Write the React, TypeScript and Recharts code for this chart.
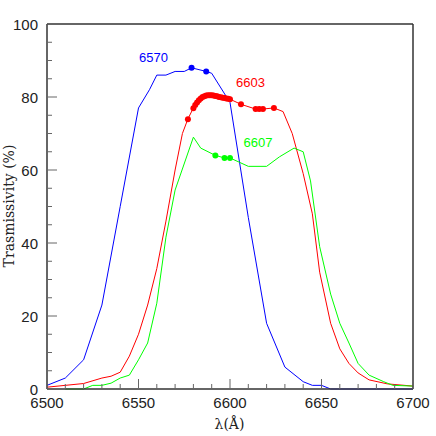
import { LineChart, Line, XAxis, YAxis } from 'recharts'

// filter 6570
const blueWave = [6500, 6510, 6520, 6530, 6540, 6550, 6556, 6560, 6565, 6570, 6575, 6579, 6587, 6590, 6600, 6610, 6620, 6630, 6640, 6645, 6650, 6655, 6700]
const blueTrans = [1, 3, 8, 23, 50, 77, 82, 86, 86, 87, 87, 88, 87, 86.5, 78.5, 47, 18, 6, 2, 1, 1, 0, 0]
const blueDotWave = [6579, 6587]
const blueDotTrans = [88, 87]

// filter 6603
const redWave = [6500, 6510, 6520, 6530, 6535, 6540, 6545, 6550, 6555, 6560, 6565, 6570, 6574, 6577, 6580, 6585, 6590, 6595, 6600, 6606, 6614, 6618, 6624, 6629, 6634, 6640, 6645, 6649, 6655, 6660, 6665, 6670, 6676, 6686, 6700]
const redTrans = [0.5, 1, 1.5, 3, 3.5, 4.6, 9, 15, 23, 33, 46, 60, 70, 74, 77, 80, 80.5, 79.9, 79.4, 78, 76.7, 76.7, 77, 76, 70, 59, 48, 32, 18, 11, 7, 4.4, 2.5, 1.4, 0.8]
const redDotWave = [6577, 6580, 6581, 6582, 6583, 6584, 6585, 6586, 6587, 6588, 6589, 6590, 6591, 6592, 6593, 6594, 6595, 6596, 6597, 6598, 6599, 6600, 6606, 6614, 6616, 6618, 6624]
const redDotTrans = [73.9, 76.9, 77.8, 78.5, 79.1, 79.6, 80, 80.2, 80.4, 80.5, 80.5, 80.5, 80.4, 80.3, 80.2, 80, 79.9, 79.8, 79.7, 79.6, 79.5, 79.4, 78, 76.7, 76.7, 76.7, 77]

// filter 6607
const greenWave = [6510, 6520, 6525, 6530, 6535, 6540, 6545, 6550, 6555, 6560, 6565, 6570, 6580, 6584, 6592, 6597, 6600, 6610, 6620, 6627, 6635, 6640, 6644, 6649, 6655, 6660, 6665, 6670, 6676, 6684, 6689, 6700]
const greenTrans = [0, 0, 1, 1, 1.6, 3, 3.8, 8, 12.6, 23.5, 41.6, 54.5, 69, 66, 64, 63.3, 63.3, 61, 61, 63.6, 66, 65, 57, 39, 26, 18, 12.6, 7, 3.8, 2, 1, 0.8]
const greenDotWave = [6592, 6597, 6600]
const greenDotTrans = [64, 63.3, 63.3]

const xTicks = [6500, 6510, 6520, 6530, 6540, 6550, 6560, 6570, 6580, 6590, 6600, 6610, 6620, 6630, 6640, 6650, 6660, 6670, 6680, 6690, 6700]
const yTicks = [0, 5, 10, 15, 20, 25, 30, 35, 40, 45, 50, 55, 60, 65, 70, 75, 80, 85, 90, 95, 100]

const BLUE = '#0000ff'
const RED = '#ff0000'
const GREEN = '#00ff00'
const AXIS = '#333'
const TICK = '#666'
const SANS = '"Liberation Sans", Arial, sans-serif'
const SERIF = '"DejaVu Serif", serif'

const toRows = (w: number[], t: number[]) => w.map((v, i) => ({ w: v, t: t[i] }))

// inward ticks, long on the labelled values
const BottomTick = ({ x, y, payload }: any) => {
  const major = payload.value % 50 === 0
  return (
    <g>
      <line x1={x} x2={x} y1={y} y2={y - (major ? 10 : 5)} stroke={TICK} />
      {major && (
        <text x={x} y={y + 18.5} textAnchor="middle" fontSize={15} fontFamily={SANS} fill="#222">
          {payload.value}
        </text>
      )}
    </g>
  )
}

const TopTick = ({ x, y, payload }: any) => {
  const major = payload.value % 50 === 0
  return <line x1={x} x2={x} y1={y} y2={y + (major ? 10 : 5)} stroke={TICK} />
}

const LeftTick = ({ x, y, payload }: any) => {
  const major = payload.value % 20 === 0
  return (
    <g>
      <line x1={x} x2={x + (major ? 10 : 5)} y1={y} y2={y} stroke={TICK} />
      {major && (
        <text x={38} y={y + 5.5} textAnchor="end" fontSize={15} fontFamily={SANS} fill="#222">
          {payload.value}
        </text>
      )}
    </g>
  )
}

const RightTick = ({ x, y, payload }: any) => {
  const major = payload.value % 20 === 0
  return <line x1={x} x2={x - (major ? 10 : 5)} y1={y} y2={y} stroke={TICK} />
}

export default function App() {
  const axisLine = { stroke: AXIS, strokeWidth: 1.5 }
  return (
    <div style={{ position: 'absolute', left: 0, top: 0, width: 436, height: 436, background: '#fff' }}>
      <LineChart width={436} height={436} margin={{ top: 20, right: 19, bottom: 27, left: 27 }}>
        <XAxis dataKey="w" type="number" domain={[6500, 6700]} ticks={xTicks} interval={0}
          height={20} tickSize={0} tickMargin={0} tickLine={false} axisLine={axisLine} tick={<BottomTick />} />
        <XAxis xAxisId="top" orientation="top" dataKey="w" type="number" domain={[6500, 6700]} ticks={xTicks} interval={0}
          height={4} tickSize={0} tickMargin={0} tickLine={false} axisLine={axisLine} tick={<TopTick />} />
        <YAxis type="number" domain={[0, 100]} ticks={yTicks} interval={0}
          width={20} tickSize={0} tickMargin={0} tickLine={false} axisLine={axisLine} tick={<LeftTick />} />
        <YAxis yAxisId="right" orientation="right" type="number" domain={[0, 100]} ticks={yTicks} interval={0}
          width={4} tickSize={0} tickMargin={0} tickLine={false} axisLine={axisLine} tick={<RightTick />} />

        <Line data={toRows(blueWave, blueTrans)} dataKey="t" type="linear" stroke={BLUE} strokeWidth={1} dot={false} activeDot={false} isAnimationActive={false} />
        <Line data={toRows(redWave, redTrans)} dataKey="t" type="linear" stroke={RED} strokeWidth={1} dot={false} activeDot={false} isAnimationActive={false} />
        <Line data={toRows(greenWave, greenTrans)} dataKey="t" type="linear" stroke={GREEN} strokeWidth={1} dot={false} activeDot={false} isAnimationActive={false} />

        <Line data={toRows(blueDotWave, blueDotTrans)} dataKey="t" stroke="none" dot={{ r: 3, fill: BLUE, stroke: 'none' }} activeDot={false} isAnimationActive={false} />
        <Line data={toRows(redDotWave, redDotTrans)} dataKey="t" stroke="none" dot={{ r: 3, fill: RED, stroke: 'none' }} activeDot={false} isAnimationActive={false} />
        <Line data={toRows(greenDotWave, greenDotTrans)} dataKey="t" stroke="none" dot={{ r: 3, fill: GREEN, stroke: 'none' }} activeDot={false} isAnimationActive={false} />

        <text x={153.5} y={62} textAnchor="middle" fontSize={13} fontFamily={SANS} fill={BLUE}>6570</text>
        <text x={250.5} y={87} textAnchor="middle" fontSize={13} fontFamily={SANS} fill={RED}>6603</text>
        <text x={258} y={146.5} textAnchor="middle" fontSize={13} fontFamily={SANS} fill={GREEN}>6607</text>

        <text x={13.5} y={206} transform="rotate(-90 13.5 206)" textAnchor="middle" fontSize={14} fontFamily={SERIF} fill="#222">
          Trasmissivity (%)
        </text>
        <text x={229.5} y={429} textAnchor="middle" fontSize={14} fontFamily={SERIF} fill="#222">λ(Å)</text>
      </LineChart>
    </div>
  )
}
